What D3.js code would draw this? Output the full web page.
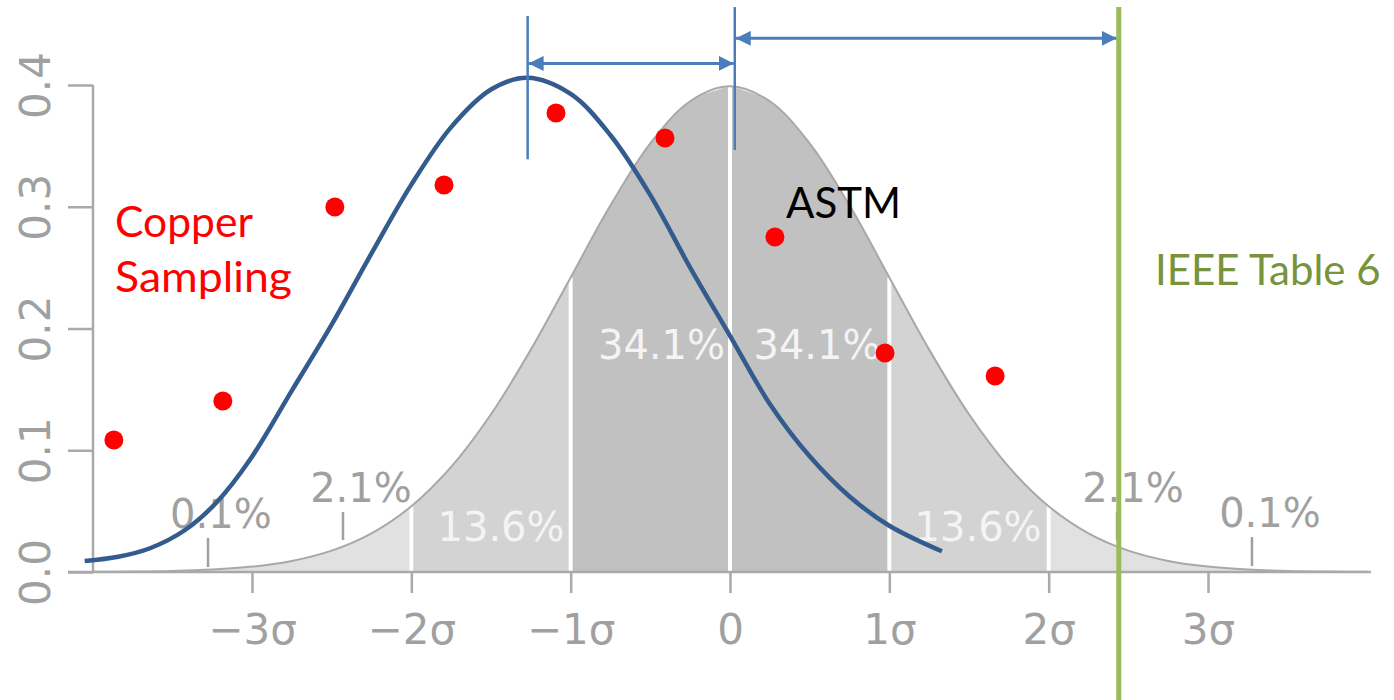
<!DOCTYPE html>
<html>
<head>
<meta charset="utf-8">
<script src="https://cdn.jsdelivr.net/npm/d3@7"></script>
<style>
  html, body { margin: 0; padding: 0; background: #ffffff; }
  svg { display: block; }
</style>
</head>
<body>
<svg id="chart" width="1394" height="700"></svg>
<script>
// ---- data ----
const xTickValues = [-3, -2, -1, 0, 1, 2, 3];
const xTickLabels = ["\u22123\u03c3", "\u22122\u03c3", "\u22121\u03c3", "0", "1\u03c3", "2\u03c3", "3\u03c3"];
const yTickValues = [0, 0.1, 0.2, 0.3, 0.4];
const yTickLabels = ["0.0", "0.1", "0.2", "0.3", "0.4"];

// standard normal density read at 0.25 sigma steps
const normalX = [-4, -3.75, -3.5, -3.25, -3, -2.75, -2.5, -2.25, -2, -1.75, -1.5, -1.25, -1, -0.75, -0.5, -0.25,
                 0, 0.25, 0.5, 0.75, 1, 1.25, 1.5, 1.75, 2, 2.25, 2.5, 2.75, 3, 3.25, 3.5, 3.75, 4];
const normalY = [0.00013, 0.00035, 0.00087, 0.00203, 0.00443, 0.00909, 0.01753, 0.03174, 0.05399, 0.08628, 0.12952, 0.18265, 0.24197, 0.30114, 0.35207, 0.38667,
                 0.39894, 0.38667, 0.35207, 0.30114, 0.24197, 0.18265, 0.12952, 0.08628, 0.05399, 0.03174, 0.01753, 0.00909, 0.00443, 0.00203, 0.00087, 0.00035, 0.00013];
const bandEdges = [-4, -2, -1, 0, 1, 2, 4];
const bandShade = ["tail", "mid", "core", "core", "mid", "tail"];
const dividers = [-2, -1, 0, 1, 2];

const pctLabels = ["0.1%", "2.1%", "13.6%", "34.1%", "34.1%", "13.6%", "2.1%", "0.1%"];
const pctX = [-3.195, -2.316, -1.437, -0.43, 0.546, 1.557, 2.529, 3.389];
const pctY = [0.0361, 0.0575, 0.0255, 0.175, 0.175, 0.0255, 0.0575, 0.0369];
const pctInside = [false, false, true, true, true, true, false, false];
const pointerX = [-3.276, -2.429, 2.429, 3.276];
const pointerY0 = [0.0041, 0.0263, 0.0263, 0.0049];
const pointerY1 = [0.0279, 0.0493, 0.0493, 0.0287];

// Copper sampling measurements (red dots)
const copperX = [-3.867, -3.183, -2.48, -1.795, -1.092, -0.408, 0.282, 0.973, 1.664];
const copperY = [0.1084, 0.1404, 0.2998, 0.3179, 0.377, 0.3565, 0.2752, 0.1799, 0.161];

// shifted distribution (blue curve)
const shiftX = [-4.05, -3.84, -3.64, -3.42, -3.22, -3.01, -2.75, -2.5, -2.25, -2.0, -1.75, -1.5, -1.27, -1.0, -0.75, -0.5, -0.25, 0, 0.25, 0.5, 0.75, 1.0, 1.33];
const shiftY = [0.009, 0.0125, 0.0195, 0.0345, 0.0575, 0.0928, 0.149, 0.2032, 0.2617, 0.3182, 0.3654, 0.3963, 0.406, 0.3927, 0.3587, 0.3095, 0.25, 0.194, 0.138, 0.095, 0.062, 0.038, 0.017];

// annotation markers (sigma units)
const shiftedMean = -1.27;
const astmMean = 0.03;
const ieeeLimit = 2.44;

// ---- drawing ----
const svg = d3.select("#chart");
const x = d3.scaleLinear().domain([-3, 3]).range([252, 1208]);
const y = d3.scaleLinear().domain([0, 0.4]).range([572, 85]);

const shadeColor = { tail: "#e1e1e1", mid: "#d3d3d3", core: "#c1c1c1" };
const normalPts = normalX.map((v, i) => [v, normalY[i]]);
const area = d3.area().x(d => x(d[0])).y0(y(0)).y1(d => y(d[1])).curve(d3.curveCatmullRom.alpha(0.5));
const lineN = d3.line().x(d => x(d[0])).y(d => y(d[1])).curve(d3.curveCatmullRom.alpha(0.5));

// bands
bandShade.forEach((s, i) => {
  const a = bandEdges[i], b = bandEdges[i + 1];
  const pts = normalPts.filter(p => p[0] >= a - 1e-9 && p[0] <= b + 1e-9);
  svg.append("path").attr("d", area(pts)).attr("fill", shadeColor[s]);
});
// white dividers
dividers.forEach(d => {
  const idx = normalX.indexOf(d);
  svg.append("line")
    .attr("x1", x(d)).attr("x2", x(d))
    .attr("y1", y(0)).attr("y2", y(normalY[idx]))
    .attr("stroke", "#ffffff").attr("stroke-width", 4);
});
// outline
svg.append("path").attr("d", lineN(normalPts)).attr("fill", "none").attr("stroke", "#a8a8a8").attr("stroke-width", 2);

// baseline
svg.append("line").attr("x1", 68).attr("x2", 1371).attr("y1", y(0)).attr("y2", y(0))
  .attr("stroke", "#a9a9a9").attr("stroke-width", 2.5);

// x axis
const gx = svg.append("g").attr("transform", `translate(0,${y(0)})`)
  .call(d3.axisBottom(x).tickValues(xTickValues).tickFormat((d, i) => xTickLabels[i]).tickSize(21));
gx.select(".domain").remove();
gx.selectAll(".tick line").attr("stroke", "#a9a9a9").attr("stroke-width", 2.5);
gx.selectAll(".tick text").attr("y", 72).attr("dy", null)
  .attr("fill", "#a0a0a0").attr("font-family", "DejaVu Sans").attr("font-size", 42);

// y axis
const gy = svg.append("g").attr("transform", "translate(93,0)")
  .call(d3.axisLeft(y).tickValues(yTickValues).tickFormat((d, i) => yTickLabels[i]).tickSize(25));
gy.select(".domain").attr("stroke", "#a9a9a9").attr("stroke-width", 2.5).attr("d", `M0,${y(0.4)}V${y(0)}`);
gy.selectAll(".tick line").attr("stroke", "#a9a9a9").attr("stroke-width", 2.5);
gy.selectAll(".tick text").attr("x", null).attr("y", null).attr("dy", null)
  .attr("text-anchor", "middle")
  .attr("transform", "translate(-43,0) rotate(-90)")
  .attr("fill", "#a0a0a0").attr("font-family", "DejaVu Sans").attr("font-size", 42);

// pointer ticks for small percentages
pointerX.forEach((px, i) => {
  svg.append("line").attr("x1", x(px)).attr("x2", x(px))
    .attr("y1", y(pointerY0[i])).attr("y2", y(pointerY1[i]))
    .attr("stroke", "#a0a0a0").attr("stroke-width", 2.5);
});

// percentage labels
pctLabels.forEach((t, i) => {
  svg.append("text").text(t)
    .attr("x", x(pctX[i])).attr("y", y(pctY[i]))
    .attr("text-anchor", "middle")
    .attr("font-family", "DejaVu Sans").attr("font-size", 40)
    .attr("fill", pctInside[i] ? "#f4f4f4" : "#a0a0a0");
});

// blue shifted curve
const shiftPts = shiftX.map((v, i) => [v, shiftY[i]]);
svg.append("path").attr("d", lineN(shiftPts)).attr("fill", "none")
  .attr("stroke", "#335b8e").attr("stroke-width", 4.5).attr("stroke-linecap", "butt");

// red dots
svg.selectAll("circle.cu").data(copperX).join("circle").attr("class", "cu")
  .attr("cx", d => x(d)).attr("cy", (d, i) => y(copperY[i])).attr("r", 9.5).attr("fill", "#ff0000");

// annotation arrows
const arrowColor = "#4a7ebb";
svg.append("defs").append("marker").attr("id", "ah")
  .attr("viewBox", "0 0 10 10").attr("refX", 10).attr("refY", 5)
  .attr("markerUnits", "userSpaceOnUse").attr("markerWidth", 15).attr("markerHeight", 15)
  .attr("orient", "auto-start-reverse")
  .append("path").attr("d", "M0,0 L10,5 L0,10 Z").attr("fill", arrowColor);

svg.append("line").attr("x1", x(shiftedMean)).attr("x2", x(shiftedMean))
  .attr("y1", y(0.4567)).attr("y2", y(0.339)).attr("stroke", arrowColor).attr("stroke-width", 2.5);
svg.append("line").attr("x1", x(astmMean)).attr("x2", x(astmMean))
  .attr("y1", y(0.464)).attr("y2", y(0.3466)).attr("stroke", arrowColor).attr("stroke-width", 2.5);
svg.append("line").attr("x1", x(shiftedMean) + 1).attr("x2", x(astmMean) - 1)
  .attr("y1", y(0.4177)).attr("y2", y(0.4177)).attr("stroke", arrowColor).attr("stroke-width", 3)
  .attr("marker-start", "url(#ah)").attr("marker-end", "url(#ah)");
svg.append("line").attr("x1", x(astmMean) + 1).attr("x2", x(ieeeLimit) - 2)
  .attr("y1", y(0.4383)).attr("y2", y(0.4383)).attr("stroke", arrowColor).attr("stroke-width", 3)
  .attr("marker-start", "url(#ah)").attr("marker-end", "url(#ah)");

// IEEE limit line
svg.append("line").attr("x1", x(ieeeLimit)).attr("x2", x(ieeeLimit))
  .attr("y1", 7).attr("y2", 700).attr("stroke", "#9bbb59").attr("stroke-width", 5);

// annotation texts
const annFont = "Lato, 'Open Sans', sans-serif";
svg.append("text").attr("x", 115).attr("y", 237).text("Copper")
  .attr("font-family", annFont).attr("font-size", 42).attr("fill", "#ff0000")
  .attr("textLength", 138).attr("lengthAdjust", "spacingAndGlyphs");
svg.append("text").attr("x", 115).attr("y", 292).text("Sampling")
  .attr("font-family", annFont).attr("font-size", 42).attr("fill", "#ff0000")
  .attr("textLength", 177).attr("lengthAdjust", "spacingAndGlyphs");
svg.append("text").attr("x", 786).attr("y", 218).text("ASTM")
  .attr("font-family", annFont).attr("font-size", 42).attr("fill", "#000000");
svg.append("text").attr("x", 1155).attr("y", 285).text("IEEE Table 6")
  .attr("font-family", annFont).attr("font-size", 42).attr("fill", "#77933c");
</script>
</body>
</html>
